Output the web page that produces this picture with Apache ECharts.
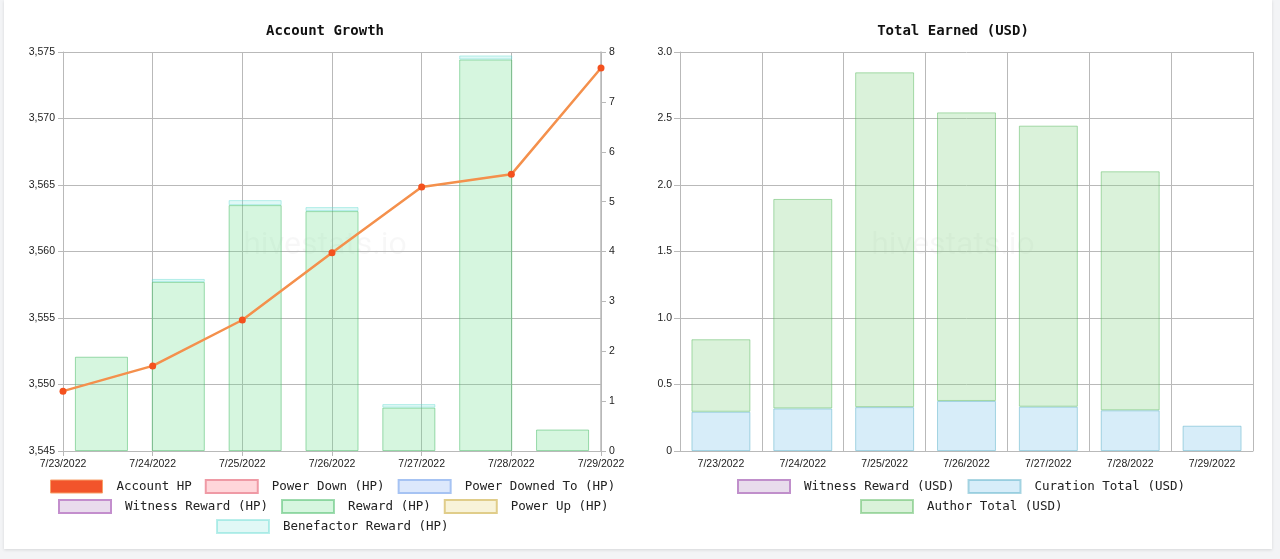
<!DOCTYPE html>
<html>
<head>
	<meta charset="utf-8">
	<title>hivestats</title>
	<script src="https://cdn.jsdelivr.net/npm/echarts@6/dist/echarts.min.js"></script>
	<style>
		html, body { margin: 0; padding: 0; background: #f3f4f6; }
		#card { position: absolute; left: 4px; top: 0; width: 1268px; height: 549px; background: #fff; box-shadow: 0 1px 3px rgba(0,0,0,0.12); }
		#main { position: absolute; left: 0; top: 0; width: 1280px; height: 559px; }
	</style>
</head>
<body>
	<div id="card"></div>
	<div id="main"></div>
	<script>
		// dates on both charts
		var days = ['7/23/2022', '7/24/2022', '7/25/2022', '7/26/2022', '7/27/2022', '7/28/2022', '7/29/2022'];

		// Account Growth
		var accountHP = [3549.5, 3551.4, 3554.85, 3559.9, 3564.85, 3565.8, 3573.8];
		var rewardHP = [1.89, 3.39, 4.93, 4.81, 0.87, 7.85, 0.43];
		var benefactorHP = ['-', 0.06, 0.1, 0.08, 0.07, 0.08, '-'];

		// Total Earned (USD)
		var curationUSD = [0.295, 0.32, 0.33, 0.376, 0.333, 0.306, 0.19];
		var authorUSD = [0.545, 1.575, 2.517, 2.17, 2.113, 1.797, '-'];

		var gridColor = '#b9b9b9';
		var labelFont = { color: '#222', fontSize: 10.5, fontFamily: 'Liberation Sans, Arial, sans-serif' };
		var monoFont = 'DejaVu Sans Mono, monospace';

		function barStyle(fill, border) {
			return { color: fill, borderColor: border, borderWidth: 1 };
		}

		function legendRow(names, left, top) {
			return {
				data: names,
				left: left,
				top: top,
				orient: 'horizontal',
				icon: 'rect',
				itemWidth: 52,
				itemHeight: 13,
				itemGap: 13,
				padding: 0,
				selectedMode: false,
				textStyle: { fontFamily: monoFont, fontSize: 12.5, color: '#222', padding: [0, 0, 0, 9] }
			};
		}

		var myChart = echarts.init(document.getElementById('main'));
		var option = {
			animation: false,
			graphic: [
				{ type: 'text', x: 325, y: 31, style: { text: 'Account Growth', font: 'bold 14px ' + monoFont, fill: '#111', align: 'center', verticalAlign: 'middle' } },
				{ type: 'text', x: 953, y: 31, style: { text: 'Total Earned (USD)', font: 'bold 14px ' + monoFont, fill: '#111', align: 'center', verticalAlign: 'middle' } },
				{ type: 'text', x: 325, y: 246, z: 0, style: { text: 'hivestats.io', font: '32px Roboto, sans-serif', fill: 'rgba(0,0,0,0.03)', align: 'center', verticalAlign: 'middle' } },
				{ type: 'text', x: 953, y: 246, z: 0, style: { text: 'hivestats.io', font: '32px Roboto, sans-serif', fill: 'rgba(0,0,0,0.03)', align: 'center', verticalAlign: 'middle' } }
			],
			legend: [
				legendRow([{ name: 'Account HP', icon: 'rect', itemStyle: { color: '#f2542b', borderColor: '#f7a06a', borderWidth: 1 } }, 'Power Down (HP)', 'Power Downed To (HP)'], 50, 479),
				legendRow(['Witness Reward (HP)', 'Reward (HP)', 'Power Up (HP)'], 58, 499),
				legendRow(['Benefactor Reward (HP)'], 216, 519),
				legendRow(['Witness Reward (USD)', 'Curation Total (USD)'], 737, 479),
				legendRow(['Author Total (USD)'], 860, 499)
			],
			grid: [
				{ left: 63, right: 679, top: 52, bottom: 108 },
				{ left: 680, right: 27, top: 52, bottom: 108 }
			],
			xAxis: [
				{
					type: 'category', gridIndex: 0, data: days, boundaryGap: false,
					axisLine: { lineStyle: { color: gridColor } },
					axisTick: { length: 5, lineStyle: { color: gridColor } },
					axisLabel: labelFont,
					splitLine: { show: true, lineStyle: { color: gridColor } }
				},
				{ type: 'category', gridIndex: 0, data: days, boundaryGap: true, show: false },
				{
					type: 'category', gridIndex: 1, data: days, boundaryGap: true,
					axisLine: { lineStyle: { color: gridColor } },
					axisTick: { length: 7, lineStyle: { color: gridColor } },
					axisLabel: labelFont,
					splitLine: { show: true, lineStyle: { color: gridColor } }
				}
			],
			yAxis: [
				{
					type: 'value', gridIndex: 0, min: 3545, max: 3575, interval: 5, position: 'left',
					axisLine: { show: true, lineStyle: { color: gridColor } },
					axisTick: { show: true, length: 5, lineStyle: { color: gridColor } },
					axisLabel: Object.assign({ formatter: function (v) { return String(v).replace(/\B(?=(\d{3})+(?!\d))/g, ','); } }, labelFont),
					splitLine: { lineStyle: { color: gridColor } }
				},
				{
					type: 'value', gridIndex: 0, min: 0, max: 8, interval: 1, position: 'right',
					axisLine: { show: true, lineStyle: { color: gridColor, width: 1.5 } },
					axisTick: { show: true, length: 5, lineStyle: { color: gridColor } },
					axisLabel: labelFont,
					splitLine: { show: false }
				},
				{
					type: 'value', gridIndex: 1, min: 0, max: 3, interval: 0.5,
					axisLine: { show: true, lineStyle: { color: gridColor } },
					axisTick: { show: true, length: 6, lineStyle: { color: gridColor } },
					axisLabel: Object.assign({ formatter: function (v) { return v === 0 ? '0' : v.toFixed(1); } }, labelFont),
					splitLine: { lineStyle: { color: gridColor } }
				}
			],
			series: [
				{
					name: 'Account HP', type: 'line', xAxisIndex: 0, yAxisIndex: 0, data: accountHP, z: 5,
					symbol: 'circle', symbolSize: 7,
					lineStyle: { color: '#f4904c', width: 2.5 },
					itemStyle: { color: '#f4511e' }
				},
				{ name: 'Power Down (HP)', type: 'bar', xAxisIndex: 1, yAxisIndex: 1, stack: 'hp', data: [], itemStyle: barStyle('#ffd6da', '#ef9aa5') },
				{ name: 'Power Downed To (HP)', type: 'bar', xAxisIndex: 1, yAxisIndex: 1, stack: 'hp', data: [], itemStyle: barStyle('#dce8fc', '#a6c3f3') },
				{ name: 'Witness Reward (HP)', type: 'bar', xAxisIndex: 1, yAxisIndex: 1, stack: 'hp', data: [], itemStyle: barStyle('#e9dced', '#c38ecd') },
				{
					name: 'Reward (HP)', type: 'bar', xAxisIndex: 1, yAxisIndex: 1, stack: 'hp', data: rewardHP,
					barCategoryGap: '31%',
					itemStyle: barStyle('rgba(102,221,136,0.27)', 'rgba(80,190,110,0.55)')
				},
				{ name: 'Power Up (HP)', type: 'bar', xAxisIndex: 1, yAxisIndex: 1, stack: 'hp', data: [], itemStyle: barStyle('#f8f3d9', '#e0cd8a') },
				{
					name: 'Benefactor Reward (HP)', type: 'bar', xAxisIndex: 1, yAxisIndex: 1, stack: 'hp', data: benefactorHP,
					itemStyle: barStyle('rgba(120,225,215,0.22)', 'rgba(100,220,210,0.45)')
				},
				{ name: 'Witness Reward (USD)', type: 'bar', xAxisIndex: 2, yAxisIndex: 2, stack: 'usd', data: [], itemStyle: barStyle('#e8dcec', '#c08fcb') },
				{
					name: 'Curation Total (USD)', type: 'bar', xAxisIndex: 2, yAxisIndex: 2, stack: 'usd', data: curationUSD,
					barCategoryGap: '28%',
					itemStyle: barStyle('rgba(130,200,235,0.32)', 'rgba(90,175,200,0.5)')
				},
				{
					name: 'Author Total (USD)', type: 'bar', xAxisIndex: 2, yAxisIndex: 2, stack: 'usd', data: authorUSD,
					itemStyle: barStyle('rgba(140,215,140,0.32)', 'rgba(90,185,95,0.5)')
				}
			]
		};
		myChart.setOption(option);
	</script>
</body>
</html>
